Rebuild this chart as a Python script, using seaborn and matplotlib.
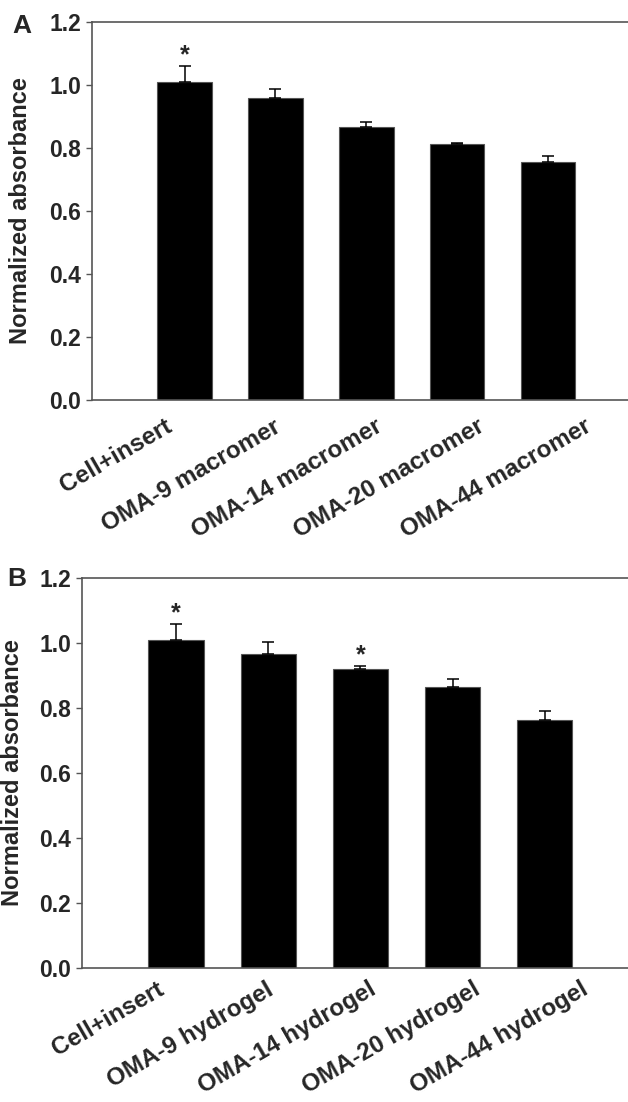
import pandas as pd
import matplotlib
matplotlib.use("Agg")
import matplotlib.pyplot as plt
import matplotlib.transforms as mtransforms
import seaborn as sns

# data
groups_a = ["Cell+insert", "OMA-9 macromer", "OMA-14 macromer", "OMA-20 macromer", "OMA-44 macromer"]
values_a = [1.009, 0.958, 0.867, 0.813, 0.757]
errors_a = [0.050, 0.028, 0.014, 0.003, 0.017]
stars_a = [True, False, False, False, False]

groups_b = ["Cell+insert", "OMA-9 hydrogel", "OMA-14 hydrogel", "OMA-20 hydrogel", "OMA-44 hydrogel"]
values_b = [1.009, 0.967, 0.921, 0.865, 0.764]
errors_b = [0.049, 0.037, 0.009, 0.025, 0.027]
stars_b = [True, False, True, False, False]

yticks = [0.0, 0.2, 0.4, 0.6, 0.8, 1.0, 1.2]

# the rotated labels are spread a bit wider than the bars (pixel nudges)
label_dx = [-20, -2, 8, 20, 36]

sns.set_style("white")
plt.rcParams["font.family"] = ["Liberation Sans", "DejaVu Sans"]
plt.rcParams["font.weight"] = "bold"

W, H = 628, 1102
fig = plt.figure(figsize=(W / 100, H / 100), dpi=100)

# axes boxes in pixels: left, top, bottom, width
ax_a = fig.add_axes([92 / W, 1 - 400 / H, 560 / W, 378 / H])
ax_b = fig.add_axes([82 / W, 1 - 968 / H, 570 / W, 390 / H])


def draw_panel(ax, groups, values, errors, stars, first_px, step_px, width_px, label_px,
               label_dy, letter, letter_xy):
    df = pd.DataFrame({"group": groups, "value": values})
    sns.barplot(data=df, x="group", y="value", color="black", width=0.6,
                edgecolor="#555555", linewidth=0.8, saturation=1, ax=ax)
    x = list(range(len(groups)))
    ax.errorbar(x, values, yerr=[[0] * len(errors), errors], fmt="none",
                ecolor="black", elinewidth=1.1, capsize=4.5, capthick=1.1)
    for i, s in enumerate(stars):
        if s:
            ax.annotate("*", (i, values[i] + errors[i]), xytext=(0, -1),
                        textcoords="offset points", ha="center", va="bottom",
                        fontsize=18, fontweight="bold")
    ax.set_ylim(0, 1.2)
    left = -first_px / step_px
    ax.set_xlim(left, left + width_px / step_px)
    ax.set_yticks(yticks)
    ax.set_yticklabels([f"{t:.1f}" for t in yticks], fontsize=16.5, fontweight="bold")
    ax.set_xticks(x)
    ax.set_xticklabels(groups, rotation=30, ha="right", va="top", rotation_mode="anchor",
                       fontsize=17.5, fontweight="bold")
    ax.set_xlabel("")
    ax.set_ylabel("Normalized absorbance", fontsize=17, fontweight="bold")
    ax.yaxis.set_label_coords(label_px / width_px, 0.5)
    ax.tick_params(axis="y", length=4, width=1, color="#555555", pad=4, direction="out", left=True)
    ax.tick_params(axis="x", length=0, pad=0)
    for lab, dx in zip(ax.get_xticklabels(), label_dx):
        shift = mtransforms.ScaledTranslation(dx / 100, -label_dy / 100, fig.dpi_scale_trans)
        lab.set_transform(lab.get_transform() + shift)
    for side in ["top", "left", "bottom"]:
        ax.spines[side].set_visible(True)
        ax.spines[side].set_color("#555555")
        ax.spines[side].set_linewidth(1.2)
    ax.spines["right"].set_visible(False)
    fig.text(letter_xy[0] / W, 1 - letter_xy[1] / H, letter, fontsize=19,
             fontweight="bold", ha="center", va="center")


draw_panel(ax_a, groups_a, values_a, errors_a, stars_a, 92.5, 90.9, 560, -60, 15, "A", (22, 26))
draw_panel(ax_b, groups_b, values_b, errors_b, stars_b, 94, 92.2, 570, -58, 10, "B", (17, 579))

fig.savefig("out.png", dpi=100)
